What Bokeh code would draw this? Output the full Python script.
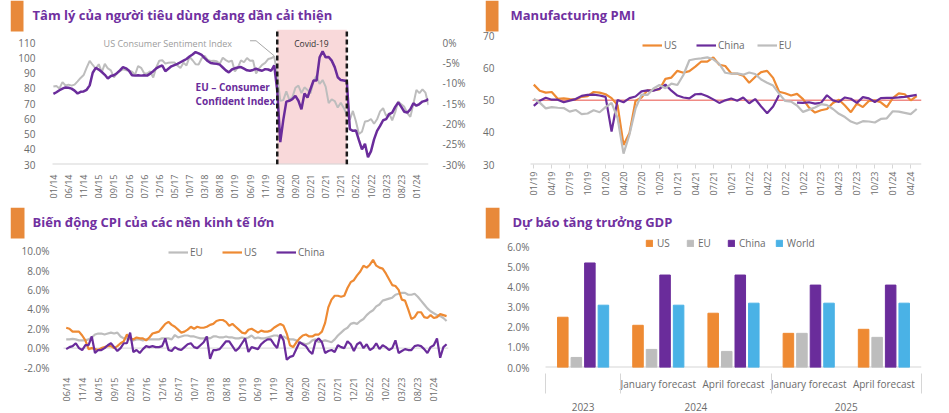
import numpy as np
from bokeh.plotting import figure
from bokeh.layouts import column, row
from bokeh.models import (Range1d, LinearAxis, FixedTicker, PrintfTickFormatter, BoxAnnotation,
                          Label)
from bokeh.embed import file_html
from bokeh.resources import INLINE

# ---------------- data ----------------
# Panel 1: consumer sentiment, monthly 01/14 - 05/24
sent_tick_labels = ["01/14", "06/14", "11/14", "04/15", "09/15", "02/16", "07/16", "12/16", "05/17",
                    "10/17", "03/18", "08/18", "01/19", "06/19", "11/19", "04/20", "09/20", "02/21",
                    "07/21", "12/21", "05/22", "10/22", "03/23", "08/23", "01/24"]
us_sentiment = [81.2, 81.6, 80.0, 84.1, 81.9, 82.5, 81.8, 82.5, 84.6, 86.9, 88.8, 93.6,
                98.1, 95.4, 93.0, 95.9, 90.7, 96.1, 93.1, 91.9, 87.2, 90.0, 91.3, 92.6,
                92.0, 91.7, 91.0, 89.0, 94.7, 93.5, 90.0, 89.8, 91.2, 87.2, 93.8, 98.2,
                98.5, 96.3, 96.9, 97.0, 97.1, 95.1, 93.4, 96.8, 95.1, 100.7, 98.5, 95.9,
                95.7, 99.7, 101.4, 98.8, 98.0, 98.2, 97.9, 96.2, 100.1, 98.6, 97.5, 98.3,
                91.2, 93.8, 98.4, 97.2, 100.0, 98.2, 98.4, 89.8, 93.2, 95.5, 96.8, 99.3,
                99.8, 101.0, 89.1, 71.8, 72.3, 78.1, 72.5, 74.1, 80.4, 81.8, 76.9, 80.7,
                79.0, 76.8, 84.9, 88.3, 82.9, 85.5, 81.2, 70.3, 72.8, 71.7, 67.4, 70.6,
                67.2, 62.8, 59.4, 65.2, 58.4, 50.0, 51.5, 58.2, 58.6, 59.9, 56.8, 59.7,
                64.9, 67.0, 62.0, 63.5, 59.0, 64.4, 71.5, 69.5, 67.9, 63.8, 61.3, 69.7,
                79.0, 76.9, 79.4, 77.2, 69.1]
eu_confidence = [-12.6, -12.2, -11.7, -11.3, -11.0, -11.1, -11.3, -11.8, -12.5, -12.1, -12.0, -11.6,
                 -10.5, -7.4, -6.2, -6.6, -7.2, -7.9, -8.8, -8.2, -8.0, -7.5, -6.8, -6.0,
                 -6.3, -6.9, -8.0, -8.1, -8.0, -8.1, -8.0, -8.1, -7.6, -7.0, -6.3, -5.9,
                 -5.6, -7.0, -6.4, -5.8, -5.5, -5.2, -4.8, -4.4, -4.0, -3.4, -2.9, -2.3,
                 -2.6, -3.0, -3.8, -4.5, -5.0, -5.1, -5.2, -5.4, -6.1, -6.8, -7.3, -6.6,
                 -6.3, -6.1, -6.0, -6.4, -6.8, -6.9, -6.7, -6.4, -6.7, -6.9, -6.5, -6.6,
                 -6.9, -5.6, -11.8, -24.5, -19.0, -14.5, -14.3, -13.9, -13.1, -14.3, -16.4, -12.5,
                 -13.5, -11.4, -9.3, -9.3, -3.6, -2.1, -3.6, -3.5, -4.4, -6.0, -8.5, -9.2,
                 -9.3, -9.5, -21.3, -21.7, -21.6, -24.0, -26.3, -24.9, -28.2, -26.7, -23.8, -21.7,
                 -20.5, -19.1, -18.8, -17.6, -17.2, -15.8, -14.7, -15.8, -17.0, -17.2, -16.4, -14.9,
                 -15.5, -15.1, -14.5, -14.3, -13.9]
covid_start, covid_end = 74, 97   # month index of 03/20 and 02/22

# Panel 2: manufacturing PMI, monthly 01/19 - 05/24
pmi_tick_labels = ["01/19", "04/19", "07/19", "10/19", "01/20", "04/20", "07/20", "10/20",
                   "01/21", "04/21", "07/21", "10/21", "01/22", "04/22", "07/22", "10/22",
                   "01/23", "04/23", "07/23", "10/23", "01/24", "04/24"]
pmi_us = [54.9, 53.0, 52.4, 52.6, 50.5, 50.6, 50.4, 50.3, 51.1, 51.3, 52.6, 52.4,
          51.9, 50.7, 48.5, 36.1, 39.8, 49.8, 50.9, 53.1, 53.2, 53.4, 56.7, 57.1,
          59.2, 58.6, 59.1, 60.5, 62.1, 62.1, 63.4, 61.1, 60.7, 58.4, 58.3, 57.7,
          55.5, 57.3, 58.8, 59.2, 57.0, 52.7, 52.2, 51.5, 52.0, 50.4, 47.7, 46.2,
          46.9, 47.3, 49.2, 50.2, 48.4, 46.3, 49.0, 47.9, 49.8, 50.0, 49.4, 47.9,
          50.7, 52.2, 51.9, 50.0, 51.3]
pmi_china = [48.3, 49.9, 50.8, 50.2, 50.2, 49.4, 49.9, 50.4, 51.4, 51.7, 51.8, 51.5,
             51.1, 40.3, 50.1, 49.4, 50.7, 51.2, 52.8, 53.1, 53.0, 53.6, 54.9, 53.0,
             51.5, 50.9, 50.6, 51.9, 52.0, 51.3, 50.3, 49.2, 50.0, 50.6, 49.9, 50.9,
             49.1, 50.4, 48.1, 46.0, 48.1, 51.7, np.nan, np.nan, 49.3, 49.2, 49.4, 49.0,
             49.2, 51.6, 50.0, 49.5, 50.9, 50.5, 49.2, 51.0, 50.6, 49.5, 50.7, 50.8,
             50.8, 50.9, 51.1, 51.4, 51.7]
pmi_eu = [50.5, 49.3, 47.5, 47.9, 47.7, 47.6, 46.5, 47.0, 45.7, 45.9, 46.9, 46.3,
          47.9, 49.2, 44.5, 33.4, 39.4, 47.4, 51.8, 51.7, 53.7, 54.8, 53.8, 55.2,
          54.8, 57.9, 62.5, 62.9, 63.1, 63.4, 62.8, 61.4, 58.6, 58.3, 58.4, 58.0,
          58.7, 58.2, 56.5, 55.5, 54.6, 52.1, 49.8, 49.6, 48.4, 46.4, 47.1, 47.8,
          48.8, 48.5, 47.3, 45.8, 44.8, 43.4, 42.7, 43.5, 43.4, 43.1, 44.2, 44.4,
          46.6, 46.5, 46.1, 45.7, 47.3]
pmi_threshold = 50

# Panel 3: CPI, monthly 06/14 - 05/24 (%)
cpi_tick_labels = ["06/14", "11/14", "04/15", "09/15", "02/16", "07/16", "12/16", "05/17", "10/17",
                   "03/18", "08/18", "01/19", "06/19", "11/19", "04/20", "09/20", "02/21", "07/21",
                   "12/21", "05/22", "10/22", "03/23", "08/23", "01/24"]
cpi_us = [2.1, 2.0, 1.7, 1.7, 1.7, 1.3, 0.8,
          -0.1, 0.0, -0.1, -0.2, 0.0, 0.1, 0.2, 0.2, 0.0, 0.2, 0.5, 0.7,
          1.4, 1.0, 0.9, 1.1, 1.0, 1.0, 0.8, 1.1, 1.5, 1.6, 1.7, 2.1,
          2.5, 2.7, 2.4, 2.2, 1.9, 1.6, 1.7, 1.9, 2.2, 2.0, 2.2, 2.1,
          2.1, 2.2, 2.4, 2.5, 2.8, 2.9, 2.9, 2.7, 2.3, 2.5, 2.2, 1.9,
          1.6, 1.5, 1.9, 2.0, 1.8, 1.6, 1.8, 1.7, 1.7, 1.8, 2.1, 2.3,
          2.5, 2.3, 1.5, 0.3, 0.1, 0.6, 1.0, 1.3, 1.4, 1.2, 1.2, 1.4,
          1.4, 1.7, 2.6, 4.2, 5.0, 5.4, 5.4, 5.3, 5.4, 6.2, 6.8, 7.0,
          7.5, 7.9, 8.5, 8.3, 8.6, 9.1, 8.5, 8.3, 8.2, 7.7, 7.1, 6.5,
          6.4, 6.0, 5.0, 4.9, 4.0, 3.0, 3.2, 3.7, 3.7, 3.2, 3.1, 3.4,
          3.1, 3.2, 3.5, 3.4, 3.3]
cpi_eu = [0.9, 0.9, 0.95, 0.9, 0.8, 0.8, 0.8,
          0.9, 1.1, 1.4, 1.5, 1.5, 1.4, 1.5, 1.6, 1.5, 1.6, 1.2, 1.0,
          1.0, 0.9, 0.8, 0.9, 0.9, 0.8, 0.9, 0.9, 0.9, 0.9, 0.9, 1.0,
          1.0, 1.0, 0.9, 1.35, 1.1, 1.2, 1.3, 1.3, 1.2, 1.2, 1.1, 1.0,
          1.0, 1.1, 1.0, 1.2, 1.2, 1.1, 1.1, 1.2, 1.1, 1.1, 1.0, 1.0,
          1.1, 1.0, 1.1, 1.3, 1.0, 1.1, 1.0, 1.0, 1.1, 1.2, 1.3, 1.3,
          1.1, 1.2, 1.0, 0.9, 0.9, 0.8, 0.6, 0.5, 0.4, 0.5, 0.8, 0.9,
          0.6, 0.7, 0.8, 0.7, 0.6, 0.9, 1.3, 1.6, 1.9, 2.1, 2.5, 2.6,
          2.5, 2.8, 3.0, 3.4, 3.7, 3.9, 4.3, 4.5, 4.9, 5.0, 5.1, 5.2,
          5.5, 5.6, 5.7, 5.7, 5.5, 5.5, 5.6, 5.3, 4.9, 4.5, 4.1, 3.8,
          3.6, 3.4, 3.3, 3.1, 2.8]
cpi_china = [-0.1, 0.1, 0.2, 0.5, 0.0, -0.2, 0.3,
             0.3, 1.2, -0.5, -0.2, -0.2, 0.0, 0.3, 0.5, 0.1, -0.3, 0.0, 0.5,
             0.5, 1.6, -0.4, -0.2, -0.5, -0.1, 0.2, 0.1, 0.2, 0.1, 0.1, 0.2,
             1.0, -0.2, -0.3, 0.1, -0.1, -0.2, 0.1, 0.4, 0.5, 0.1, 0.0, 0.3,
             0.6, 1.2, -1.1, -0.2, -0.2, -0.1, 0.3, 0.7, 0.7, 0.2, -0.3, 0.0,
             0.5, 1.0, -0.4, 0.1, 0.0, -0.1, 0.4, 0.7, 0.9, 0.9, 0.4, 0.0,
             1.4, 0.8, -1.2, -0.9, -0.8, -0.1, 0.6, 0.4, 0.2, -0.3, -0.6, 0.7,
             1.0, 0.6, -0.5, -0.3, -0.2, -0.4, 0.3, 0.1, 0.0, 0.7, 0.4, -0.3,
             0.4, 0.6, 0.0, 0.4, -0.2, 0.0, 0.5, -0.1, 0.3, 0.1, -0.2, 0.0,
             0.8, -0.5, -0.3, -0.1, -0.2, -0.2, 0.2, 0.3, 0.2, -0.1, -0.5, 0.1,
             0.3, 1.0, -1.0, 0.1, 0.4]

# Panel 4: GDP growth forecasts (%)
gdp_year = ["2023", "2024", "2024", "2025", "2025"]
gdp_forecast = ["", "January forecast", "April forecast", "January forecast", "April forecast"]
gdp_us = [2.5, 2.1, 2.7, 1.7, 1.9]
gdp_eu = [0.5, 0.9, 0.8, 1.7, 1.5]
gdp_china = [5.2, 4.6, 4.6, 4.1, 4.1]
gdp_world = [3.1, 3.1, 3.2, 3.2, 3.2]

# ---------------- style ----------------
FONT = "Open Sans"
TITLE_COLOR = "#7030A0"
BLOCK = "#E8893A"
ORANGE = "#EE8A33"
PURPLE = "#6A2C9B"
GRAY = "#BDBDBD"
BLUE = "#4AB2E6"
TICK = "#6B6B6B"
BORDER = "#D6D6D6"


def make_fig(width, height, x_range, y_range, borders):
    p = figure(width=width, height=height, x_range=x_range, y_range=y_range,
               output_backend="svg", toolbar_location=None,
               min_border_left=borders[0], min_border_right=borders[1],
               min_border_top=borders[2], min_border_bottom=borders[3])
    p.xgrid.visible = False
    p.ygrid.visible = False
    p.outline_line_color = None
    return p


def add_header(p, text, frame_h, block_top, block_w, text_x, text_y):
    """Orange marker + purple bold heading in the top-left corner (screen px inside the frame)."""
    p.add_layout(BoxAnnotation(left=0, right=block_w, top=frame_h - block_top,
                               bottom=frame_h - block_top - 31,
                               left_units="screen", right_units="screen",
                               top_units="screen", bottom_units="screen",
                               fill_color=BLOCK, fill_alpha=1, line_color=None, level="overlay"))
    p.add_layout(Label(x=text_x, y=frame_h - text_y, x_units="screen", y_units="screen", text=text,
                       text_font=FONT, text_font_style="bold", text_font_size="13px",
                       text_color=TITLE_COLOR, text_baseline="middle"))


def style_axis(ax, size="10px"):
    ax.major_label_text_font = FONT
    ax.major_label_text_font_size = size
    ax.major_label_text_color = TICK
    ax.major_tick_line_color = None
    ax.minor_tick_line_color = None
    ax.axis_line_color = None


def style_legend(leg):
    leg.orientation = "horizontal"
    leg.border_line_color = None
    leg.background_fill_alpha = 0
    leg.label_text_font = FONT
    leg.label_text_font_size = "10px"
    leg.label_text_color = TICK
    leg.padding = 0
    leg.margin = 0
    leg.spacing = 12
    leg.label_standoff = 2
    leg.glyph_width = 20
    leg.glyph_height = 12


# ---------------- panel 1 ----------------
x1 = np.arange(len(us_sentiment))
p1 = make_fig(475, 207, Range1d(-14.18, 124), Range1d(30, 137.77), (10, 47, 0, 43))
p1.extra_y_ranges = {"eu": Range1d(-30, 10.41)}
p1.add_layout(BoxAnnotation(left=covid_start, right=covid_end, top=118.6, fill_color="#F9D9DA",
                            fill_alpha=1, line_color=None, level="underlay"))
p1.line([x1[0] - 0.3, x1[-1]], [30, 30], line_color=BORDER, line_width=2)
p1.line(x1, us_sentiment, line_color=GRAY, line_width=2)
p1.line(x1, eu_confidence, y_range_name="eu", line_color=PURPLE, line_width=2.5)
p1.segment(x0=[covid_start, covid_end], y0=[30, 30], x1=[covid_start, covid_end], y1=[118.6, 118.6],
           line_color="#1A1A1A", line_width=2.5, line_dash="5 3")
p1.yaxis.ticker = FixedTicker(ticks=[30, 40, 50, 60, 70, 80, 90, 100, 110])
style_axis(p1.yaxis[0])
p1.yaxis.major_label_standoff = -31
ax_r = LinearAxis(y_range_name="eu", ticker=FixedTicker(ticks=[-30, -25, -20, -15, -10, -5, 0]),
                  formatter=PrintfTickFormatter(format="%d%%"))
style_axis(ax_r)
ax_r.major_label_standoff = 8
p1.add_layout(ax_r, "right")
p1.xaxis.ticker = FixedTicker(ticks=list(range(0, len(us_sentiment), 5)))
p1.xaxis.major_label_overrides = {i * 5: lab for i, lab in enumerate(sent_tick_labels)}
style_axis(p1.xaxis[0], "9px")
p1.xaxis.major_label_orientation = np.pi / 2
p1.xaxis.major_label_standoff = 4
p1.add_layout(Label(x=16.6, y=109.3, text="US Consumer Sentiment Index", text_font=FONT,
                    text_font_size="9px", text_color="#9C9C9C", text_baseline="middle"))
p1.line([65, 67, 73], [111.3, 111.3, 101.4], line_color="#A6A6A6", line_width=1)
p1.add_layout(Label(x=47, y=80.9, text="EU – Consumer", text_font=FONT, text_font_style="bold",
                    text_font_size="10px", text_color=PURPLE, text_baseline="middle"))
p1.add_layout(Label(x=47, y=71.7, text="Confident Index", text_font=FONT, text_font_style="bold",
                    text_font_size="10px", text_color=PURPLE, text_baseline="middle"))
p1.add_layout(Label(x=85.3, y=109.3, text="Covid-19", text_font=FONT, text_font_size="8.5px",
                    text_color="#333333", text_align="center", text_baseline="middle"))
add_header(p1, "Tâm lý của người tiêu dùng đang dần cải thiện", 164, 0, 13, 22, 14)

# ---------------- panel 2 ----------------
x2 = np.arange(len(pmi_us))
p2 = make_fig(474, 207, Range1d(-8.07, 64.8), Range1d(30, 81.13), (10, 28, 0, 43))
p2.line([x2[0] - 0.55, x2[-1] + 0.8], [30, 30], line_color=BORDER, line_width=2)
p2.line([x2[0] - 0.2, x2[-1] + 0.8], [pmi_threshold, pmi_threshold], line_color="#F08A84", line_width=1.5)
p2.line(x2, pmi_us, line_color=ORANGE, line_width=2.2, legend_label="US")
p2.line(x2, pmi_china, line_color=PURPLE, line_width=2.2, legend_label="China")
p2.line(x2, pmi_eu, line_color=GRAY, line_width=2.2, legend_label="EU")
style_legend(p2.legend[0])
p2.legend.location = (157, 112)
p2.yaxis.ticker = FixedTicker(ticks=[30, 40, 50, 60, 70])
style_axis(p2.yaxis[0])
p2.yaxis.major_label_standoff = -15
p2.xaxis.ticker = FixedTicker(ticks=list(range(0, len(pmi_us), 3)))
p2.xaxis.major_label_overrides = {i * 3: lab for i, lab in enumerate(pmi_tick_labels)}
style_axis(p2.xaxis[0], "9px")
p2.xaxis.major_tick_line_color = BORDER
p2.xaxis.major_tick_out = 4
p2.xaxis.major_tick_in = 0
p2.xaxis.major_label_orientation = np.pi / 2
p2.xaxis.major_label_standoff = 3
add_header(p2, "Manufacturing PMI", 164, 0, 13, 25, 14)

# ---------------- panel 3 ----------------
x3 = np.arange(len(cpi_us))
p3 = make_fig(475, 206, Range1d(-17.43, 119.6), Range1d(-2, 14.5), (10, 27, 0, 41))
p3.line([x3[0] - 0.85, x3[-1] + 0.6], [0, 0], line_color=BORDER, line_width=1)
p3.line(x3, cpi_eu, line_color=GRAY, line_width=2.2, legend_label="EU")
p3.line(x3, cpi_us, line_color=ORANGE, line_width=2.2, legend_label="US")
p3.line(x3, cpi_china, line_color=PURPLE, line_width=2.2, legend_label="China")
style_legend(p3.legend[0])
p3.legend.location = (158, 108)
p3.yaxis.ticker = FixedTicker(ticks=[-2, 0, 2, 4, 6, 8, 10])
p3.yaxis.formatter = PrintfTickFormatter(format="%.1f%%")
style_axis(p3.yaxis[0])
p3.yaxis.major_label_standoff = -45
p3.xaxis.ticker = FixedTicker(ticks=list(range(0, len(cpi_us), 5)))
p3.xaxis.major_label_overrides = {i * 5: lab for i, lab in enumerate(cpi_tick_labels)}
style_axis(p3.xaxis[0], "9px")
p3.xaxis.major_label_orientation = np.pi / 2
p3.xaxis.major_label_standoff = 4
add_header(p3, "Biến động CPI của các nền kinh tế lớn", 165, 5, 14, 22, 19)

# ---------------- panel 4 ----------------
gx = np.arange(len(gdp_us))
p4 = make_fig(474, 206, Range1d(-1.298, 4.5), Range1d(0, 7.96), (10, 28, 0, 41))
p4.line([gx[0] - 0.5, gx[-1] + 0.5], [0, 0], line_color=BORDER, line_width=2)
bar_w = 0.14
p4.vbar(x=gx - 0.27, top=gdp_us, width=bar_w, color=ORANGE, legend_label="US")
p4.vbar(x=gx - 0.09, top=gdp_eu, width=bar_w, color=GRAY, legend_label="EU")
p4.vbar(x=gx + 0.09, top=gdp_china, width=bar_w, color=PURPLE, legend_label="China")
p4.vbar(x=gx + 0.27, top=gdp_world, width=bar_w, color=BLUE, legend_label="World")
style_legend(p4.legend[0])
p4.legend.glyph_width = 8
p4.legend.glyph_height = 8
p4.legend.spacing = 9
p4.legend.label_standoff = 4
p4.legend.location = (160, 117)
p4.yaxis.ticker = FixedTicker(ticks=[0, 1, 2, 3, 4, 5, 6])
p4.yaxis.formatter = PrintfTickFormatter(format="%.1f%%")
style_axis(p4.yaxis[0])
p4.yaxis.major_label_standoff = -50
# level 1: forecast vintage
sub_ticks = [i for i, lab in enumerate(gdp_forecast) if lab]
p4.xaxis.ticker = FixedTicker(ticks=sub_ticks)
p4.xaxis.major_label_overrides = {i: gdp_forecast[i] for i in sub_ticks}
style_axis(p4.xaxis[0])
p4.xaxis.major_label_standoff = 3
# level 2: year, with group separators as minor ticks drawn up through the first label row
years = sorted(set(gdp_year))
year_pos = [float(np.mean([i for i, y in enumerate(gdp_year) if y == yr])) for yr in years]
bounds = [-0.5] + [i + 0.5 for i in range(len(gdp_year) - 1) if gdp_year[i] != gdp_year[i + 1]] + [len(gdp_year) - 0.5]
ax_year = LinearAxis(ticker=FixedTicker(ticks=year_pos, minor_ticks=bounds),
                     major_label_overrides={pos: yr for pos, yr in zip(year_pos, years)})
style_axis(ax_year)
ax_year.major_label_standoff = 3
ax_year.minor_tick_line_color = BORDER
ax_year.minor_tick_in = 20
ax_year.minor_tick_out = 0
p4.add_layout(ax_year, "below")
add_header(p4, "Dự báo tăng trưởng GDP", 165, 5, 14, 27, 19)

layout = column(row(p1, p2, spacing=0), row(p3, p4, spacing=0), spacing=0)
open("out.html", "w").write(file_html(layout, INLINE))
